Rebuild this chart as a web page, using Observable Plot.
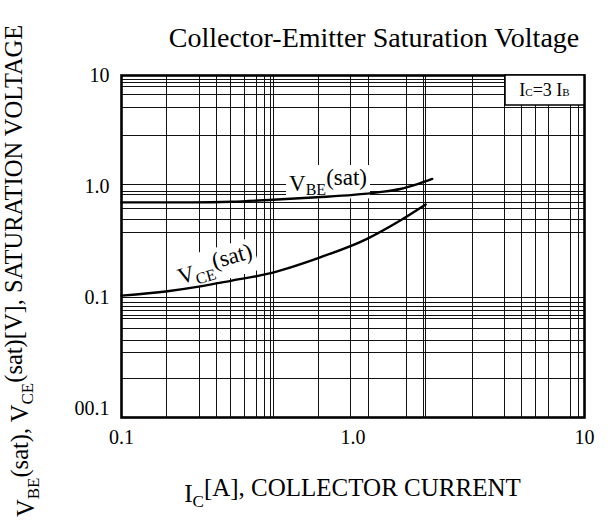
<!DOCTYPE html>
<html><head><meta charset="utf-8">
<script src="https://cdn.jsdelivr.net/npm/d3@7"></script>
<script src="https://cdn.jsdelivr.net/npm/@observablehq/plot@0.6"></script>
<style>
body{margin:0;background:#fff;}
#chart{position:relative;width:611px;height:521px;overflow:hidden;}
#chart svg{font-family:"Liberation Serif","Times New Roman",serif;overflow:visible;}
</style></head><body><div id="chart"></div>
<script>
// ---- data ----
const vbeCurrent = [0.1, 0.2, 0.3, 0.45, 0.7, 1.0, 1.3, 1.6, 1.9, 2.2];
const vbeVoltage = [0.72, 0.72, 0.73, 0.76, 0.80, 0.84, 0.89, 0.95, 1.05, 1.17];
const vceCurrent = [0.1, 0.158, 0.219, 0.3, 0.426, 0.712, 1.15, 1.6, 2.06];
const vceVoltage = [0.104, 0.114, 0.126, 0.142, 0.163, 0.228, 0.338, 0.494, 0.689];

const xTicks = [0.1, 1, 10];
const xTickLabels = ["0.1", "1.0", "10"];
const yTicks = [10, 1, 0.1, 0.01];
const yTickLabels = ["10", "1.0", "0.1", "00.1"];

// grid lines as printed on the (irregular) datasheet grid
const gridX = [0.157, 0.217, 0.256, 0.296, 0.340, 0.383, 0.415, 0.440, 0.452, 0.709, 0.98, 1.17, 1.71, 2.01, 2.06, 3.27, 4.51, 5.33, 6.14, 6.99, 8.71, 9.42];
const gridY = [9.2, 8.65, 7.96, 6.75, 5.15, 2.88, 1.036, 0.908, 0.84, 0.718, 0.63, 0.50, 0.388, 0.1, 0.0907, 0.083, 0.0766, 0.0688, 0.0643, 0.0525, 0.0412, 0.0318, 0.0187];

const xDomain = [0.1, 10];
const yDomain = [0.0083, 10];

const titleText = "Collector-Emitter Saturation Voltage";
const legendText = [["I", 0], ["C", 1], ["=3 I", 0], ["B", 1]];
const vbeLabel = {x: 0.78, y: 1.07, parts: [["V", 0], ["BE", 1], ["(sat)", 2]]};
const vceLabel = {x: 0.255, y: 0.19, parts: [["V", 0], ["CE", 1], ["(sat)", 2]]};
const yLabelParts = [["V",0],["BE",1],["(sat), V",2],["CE",1],["(sat)[V], SATURATION VOLTAGE",2]];
const xLabelParts = [["I",0],["C",1],["[A], COLLECTOR CURRENT",2]];

const vbe = vbeCurrent.map((c, i) => ({c, v: vbeVoltage[i]}));
const vce = vceCurrent.map((c, i) => ({c, v: vceVoltage[i]}));

const W = 611, H = 521;
const plot = Plot.plot({
  width: W, height: H,
  marginLeft: 121, marginRight: 27, marginTop: 75, marginBottom: 104,
  style: {fontFamily: "Liberation Serif", fontSize: "20px", color: "#000", background: "white"},
  x: {type: "log", domain: xDomain, ticks: xTicks, tickFormat: (d) => xTickLabels[xTicks.indexOf(d)], tickSize: 0, tickPadding: 12, label: null},
  y: {type: "log", domain: yDomain, ticks: yTicks, tickFormat: (d) => yTickLabels[yTicks.indexOf(d)], tickSize: 0, tickPadding: 12, label: null},
  marks: [
    Plot.ruleX(gridX, {stroke: "#111", strokeWidth: 1, shapeRendering: "crispEdges"}),
    Plot.ruleY(gridY, {stroke: "#111", strokeWidth: 1, shapeRendering: "crispEdges"}),
    Plot.text([vbeLabel], {x: "x", y: "y", text: () => "LBL_VBE", fontSize: 23}),
    Plot.text([vceLabel], {x: "x", y: "y", text: () => "LBL_VCE", fontSize: 23, rotate: -16}),
    Plot.line(vbe, {x: "c", y: "v", curve: "monotone-x", stroke: "#000", strokeWidth: 2.4}),
    Plot.line(vce, {x: "c", y: "v", curve: "monotone-x", stroke: "#000", strokeWidth: 2.4}),
    Plot.frame({stroke: "#000", strokeWidth: 2.6})
  ]
});
document.getElementById("chart").appendChild(plot);

const svg = d3.select(plot);
const xs = plot.scale("x"), ys = plot.scale("y");

function fill(textSel, parts, base, sub) {
  textSel.text(null);
  let state = 0; // 0 normal, 1 subscript
  parts.forEach(([t, kind]) => {
    const ts = textSel.append("tspan").text(t);
    if (kind === 1) {
      ts.attr("font-size", sub).attr("dy", state === 1 ? 0 : "0.3em");
      state = 1;
    } else {
      ts.attr("font-size", base);
      if (state === 1) ts.attr("dy", kind === 2 ? "-0.45em" : "-0.3em");
      state = 0;
    }
  });
}

function boxBehind(textNode, padX, padY) {
  const bb = textNode.getBBox();
  const r = document.createElementNS("http://www.w3.org/2000/svg", "rect");
  r.setAttribute("x", bb.x - padX); r.setAttribute("y", bb.y - padY);
  r.setAttribute("width", bb.width + 2 * padX); r.setAttribute("height", bb.height + 2 * padY);
  r.setAttribute("fill", "white");
  const tr = textNode.getAttribute("transform");
  if (tr) r.setAttribute("transform", tr);
  textNode.parentNode.insertBefore(r, textNode);
}

svg.selectAll("text").each(function() {
  const t = d3.select(this);
  if (this.textContent === "LBL_VBE") { fill(t, vbeLabel.parts, 23, 16); boxBehind(this, 3, 0); }
  else if (this.textContent === "LBL_VCE") { fill(t, vceLabel.parts, 23, 16); boxBehind(this, 3, 0); }
});

// legend box at the top-right corner of the frame
const x0 = xs.apply(10), y0 = ys.apply(10);
const lg = svg.append("g");
lg.append("rect").attr("x", x0 - 79).attr("y", y0).attr("width", 79).attr("height", 30)
  .attr("fill", "white").attr("stroke", "#000").attr("stroke-width", 1.5);
const lt = lg.append("text").attr("x", x0 - 39.5).attr("y", y0 + 21).attr("text-anchor", "middle").attr("font-size", 18);
legendText.forEach(([t, k]) => lt.append("tspan").text(t).attr("font-size", k ? 11 : 18));

// title
svg.append("text").attr("x", 374).attr("y", 47).attr("text-anchor", "middle").attr("font-size", 28).text(titleText);

// x label
const xl = svg.append("text").attr("x", xs.apply(1)).attr("y", 502).attr("text-anchor", "middle");
fill(xl, xLabelParts, 25, 17);

// y label
const yl = svg.append("text").attr("transform", "translate(34,517) rotate(-90)").attr("text-anchor", "start");
fill(yl, yLabelParts, 24.5, 17);
</script></body></html>
